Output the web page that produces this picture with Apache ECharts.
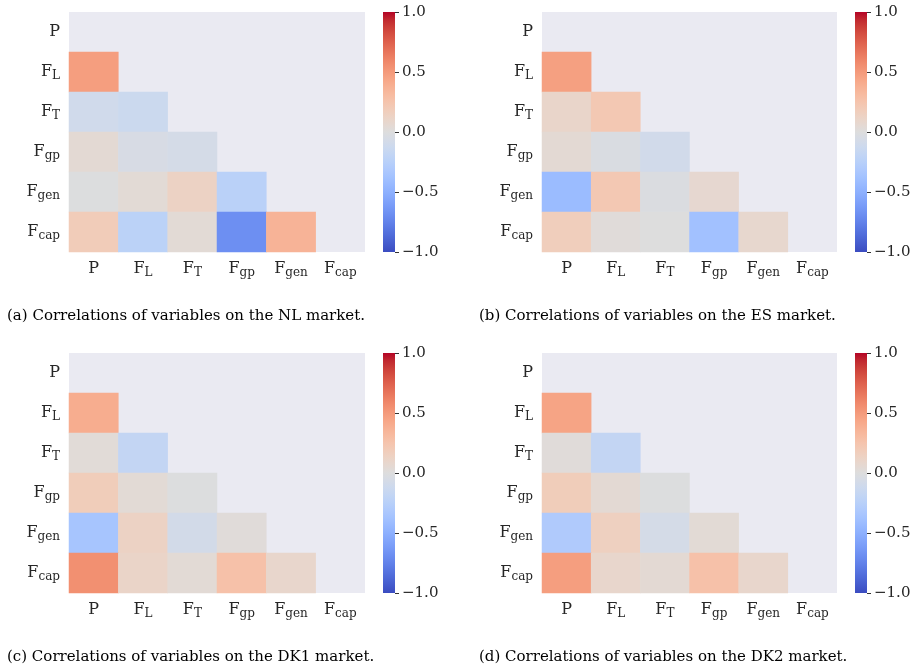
<!DOCTYPE html>
<html><head><meta charset="utf-8">
<script src="https://cdn.jsdelivr.net/npm/echarts@6/dist/echarts.min.js"></script>
<style>html,body{margin:0;padding:0;background:#fff}#c{width:914px;height:669px}</style>
</head><body><div id="c"></div>
<script>
// Variables (rows/cols of the correlation matrix)
const variables = ['P', 'F_L', 'F_T', 'F_gp', 'F_gen', 'F_cap'];
// Strictly lower triangle: row i holds correlations with columns 0..i-1
const corrNL  = [[], [0.48], [-0.10, -0.13], [0.05, -0.05, -0.07], [-0.01, 0.04, 0.13, -0.24], [0.19, -0.23, 0.04, -0.68, 0.36]];
const corrES  = [[], [0.47], [0.10, 0.22], [0.05, -0.03, -0.09], [-0.42, 0.22, -0.02, 0.07], [0.17, 0.02, 0.00, -0.38, 0.08]];
const corrDK1 = [[], [0.40], [0.03, -0.18], [0.18, 0.04, -0.01], [-0.35, 0.13, -0.08, 0.02], [0.55, 0.11, 0.04, 0.27, 0.09]];
const corrDK2 = [[], [0.45], [0.02, -0.18], [0.18, 0.05, -0.01], [-0.30, 0.15, -0.07, 0.04], [0.48, 0.09, 0.05, 0.27, 0.09]];
const captions = [
  '(a) Correlations of variables on the NL market.',
  '(b) Correlations of variables on the ES market.',
  '(c) Correlations of variables on the DK1 market.',
  '(d) Correlations of variables on the DK2 market.'
];
const colorbarTicks = [-1, -0.5, 0, 0.5, 1];

const coolwarm = ['#3b4cc0','#445acc','#4d68d7','#5775e1','#6282ea','#6c8ef1','#779af7','#82a5fb','#8db0fe','#98b9ff','#a3c2ff','#aec9fd','#b8d0f9','#c2d5f4','#ccd9ee','#d5dbe6','#dddddd','#e5d8d1','#ecd3c5','#f1ccb9','#f5c4ad','#f7bba0','#f7b194','#f7a687','#f49a7b','#f18d6f','#ec7f63','#e57058','#de604d','#d55042','#cb3e38','#c0282f','#b40426'];

const FONT = 'DejaVu Serif';
const TXT = '#262626';
function fmt(v) {
  const i = v.indexOf('_');
  if (i < 0) return '{m|' + v + '}';
  return '{m|' + v.slice(0, i) + '}{s|' + v.slice(i + 1) + '}';
}
const rich = {
  m: {fontFamily: FONT, fontSize: 16, color: TXT, lineHeight: 24, verticalAlign: 'middle'},
  s: {fontFamily: FONT, fontSize: 12, color: TXT, lineHeight: 16, padding: [8, 0, 0, 0], verticalAlign: 'middle'}
};

const panels = [
  {data: corrNL,  left: 69,  top: 12,  w: 296, cb: 383},
  {data: corrES,  left: 542, top: 12,  w: 295, cb: 855},
  {data: corrDK1, left: 69,  top: 353, w: 296, cb: 383},
  {data: corrDK2, left: 542, top: 353, w: 295, cb: 855}
];
const H = 240;

const cbGradient = new echarts.graphic.LinearGradient(0, 1, 0, 0,
  coolwarm.map((c, i) => ({offset: i / (coolwarm.length - 1), color: c})));

const grid = [], xAxis = [], yAxis = [], series = [], visualMap = [], title = [];
panels.forEach((p, k) => {
  grid.push({left: p.left, top: p.top, width: p.w, height: H, show: true, backgroundColor: '#eaeaf2', borderWidth: 0, containLabel: false});
  xAxis.push({type: 'category', gridIndex: k, data: variables, axisLine: {show: false}, axisTick: {show: false}, splitArea: {show: false},
    axisLabel: {margin: 5, formatter: fmt, rich: rich, interval: 0}});
  yAxis.push({type: 'category', gridIndex: k, data: variables, inverse: true, axisLine: {show: false}, axisTick: {show: false},
    axisLabel: {margin: 9, formatter: fmt, rich: rich, interval: 0, align: 'right'}});
  const d = [];
  p.data.forEach((row, i) => row.forEach((v, j) => d.push([j, i, v])));
  series.push({type: 'heatmap', xAxisIndex: k, yAxisIndex: k, data: d, itemStyle: {borderWidth: 0}, emphasis: {disabled: true}, progressive: 0});
  visualMap.push({type: 'continuous', seriesIndex: k, min: -1, max: 1, show: false, inRange: {color: coolwarm}});
});
// colorbar axes (gradient bar = grid background, ticks from the value axis)
panels.forEach((p, k) => {
  grid.push({left: p.cb, top: p.top, width: 12, height: H, show: true, borderWidth: 0, backgroundColor: cbGradient});
  xAxis.push({type: 'value', gridIndex: 4 + k, show: false, min: 0, max: 1});
  yAxis.push({type: 'value', gridIndex: 4 + k, position: 'right', min: colorbarTicks[0], max: colorbarTicks[colorbarTicks.length - 1], interval: 0.5,
    axisLine: {show: false, onZero: false}, splitLine: {show: false},
    axisTick: {show: true, length: 4, lineStyle: {color: '#333', width: 1}},
    axisLabel: {margin: 7, fontFamily: FONT, fontSize: 15, color: TXT,
      formatter: v => (v < 0 ? '\u2212' : '') + Math.abs(v).toFixed(1)}});
});
const capPos = [[7, 309], [479, 309], [7, 650], [479, 650]];
captions.forEach((c, k) => title.push({text: c, left: capPos[k][0], top: capPos[k][1], padding: 0,
  textStyle: {fontFamily: FONT, fontSize: 15, fontWeight: 'normal', color: '#000'}}));

const chart = echarts.init(document.getElementById('c'), null, {renderer: 'canvas'});
chart.setOption({animation: false, backgroundColor: '#fff', title, grid, xAxis, yAxis, series, visualMap});
</script></body></html>
